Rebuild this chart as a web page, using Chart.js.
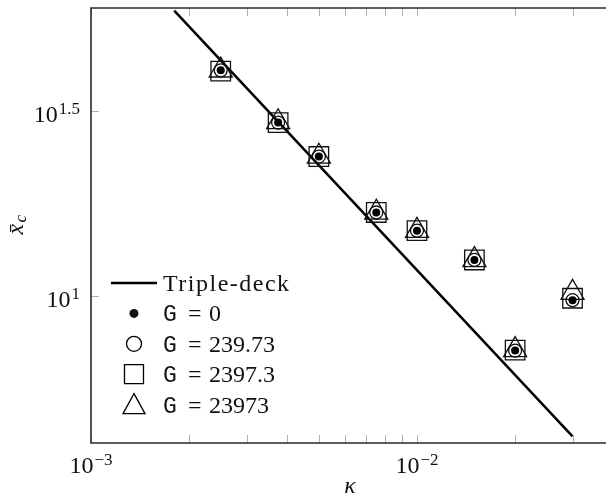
<!DOCTYPE html>
<html>
<head>
<meta charset="utf-8">
<script src="https://cdn.jsdelivr.net/npm/chart.js@4.4.1/dist/chart.umd.min.js"></script>
<style>
  html, body { margin: 0; padding: 0; background: #fff; overflow: hidden; }
  #wrap { width: 606px; height: 494px; }
  canvas { display: block; }
</style>
</head>
<body>
<div id="wrap"><canvas id="chart" width="606" height="494"></canvas></div>
<script>
// kappa values of the simulations
const kappa = [0.0025, 0.00375, 0.005, 0.0075, 0.01, 0.015, 0.02, 0.03];
// separation point x_c for each G
const xcG0 = [40.7, 29.4, 23.8, 16.8, 15.0, 12.5, 7.11, 9.73];
const xcG239 = [40.7, 29.4, 23.8, 16.8, 15.0, 12.5, 7.11, 9.73];
const xcG2397 = [40.5, 29.4, 23.8, 16.8, 15.0, 12.5, 7.13, 9.85];
const xcG23973 = [40.7, 29.5, 23.8, 16.8, 15.0, 12.5, 7.14, 10.2];
// triple-deck prediction
const tripleKappa = [0.0018, 0.03];
const tripleXc = [59, 4.17];
// ticks
const xTicks = [0.001, 0.01];
const xTickExp = ['\u22123', '\u22122'];
const xMinor = [0.002, 0.003, 0.004, 0.005, 0.006, 0.007, 0.008, 0.009, 0.02, 0.03];
const yTicks = [10, 31.6228];
const yTickExp = ['1', '1.5'];
const legendNames = ['Triple-deck', '0', '239.73', '2397.3', '23973'];

const serif = '"Liberation Serif", "DejaVu Serif", serif';
const mono = '"Liberation Mono", "DejaVu Sans Mono", monospace';

function pts(xs, ys) {
    return xs.map((x, i) => ({ x: x, y: ys[i] }));
}

function drawPow(ctx, base, exp, x, y, align) {
    ctx.font = '24px ' + serif;
    const wb = ctx.measureText(base).width;
    ctx.font = '17px ' + serif;
    const we = ctx.measureText(exp).width;
    let start = x;
    if (align === 'center') start = x - (wb + we + 1) / 2;
    if (align === 'right') start = x - (wb + we + 1);
    ctx.textAlign = 'left';
    ctx.textBaseline = 'alphabetic';
    ctx.font = '24px ' + serif;
    ctx.fillText(base, start, y);
    ctx.font = '17px ' + serif;
    ctx.fillText(exp, start + wb + 1, y - 8);
}

const framePlugin = {
    id: 'frame',
    afterDraw(chart) {
        const ctx = chart.ctx;
        const a = chart.chartArea;
        const xs = chart.scales.x;
        const ys = chart.scales.y;
        ctx.save();
        // ticks (inside)
        ctx.strokeStyle = '#b0b0b0';
        ctx.lineWidth = 1;
        ctx.beginPath();
        xTicks.concat(xMinor).forEach(v => {
            const px = Math.round(xs.getPixelForValue(v)) + 0.5;
            ctx.moveTo(px, a.bottom); ctx.lineTo(px, a.bottom - 8);
            ctx.moveTo(px, a.top); ctx.lineTo(px, a.top + 8);
        });
        yTicks.forEach(v => {
            const py = Math.round(ys.getPixelForValue(v)) + 0.5;
            ctx.moveTo(a.left, py); ctx.lineTo(a.left + 8, py);
        });
        ctx.stroke();
        // frame (right side is outside the picture)
        ctx.strokeStyle = '#2a2a2a';
        ctx.lineWidth = 1.6;
        ctx.beginPath();
        ctx.moveTo(a.right + 5, a.top); ctx.lineTo(a.left, a.top);
        ctx.lineTo(a.left, a.bottom); ctx.lineTo(a.right + 5, a.bottom);
        ctx.stroke();
        // tick labels
        ctx.fillStyle = '#111';
        xTicks.forEach((v, i) => {
            drawPow(ctx, '10', xTickExp[i], xs.getPixelForValue(v), a.bottom + 30, 'center');
        });
        yTicks.forEach((v, i) => {
            drawPow(ctx, '10', yTickExp[i], a.left - 11, ys.getPixelForValue(v) + 11, 'right');
        });
        // axis titles
        ctx.font = 'italic 24px ' + serif;
        ctx.textAlign = 'center';
        ctx.fillText('\u03ba', 350, 493);
        ctx.save();
        ctx.translate(23, (a.top + a.bottom) / 2);
        ctx.rotate(-Math.PI / 2);
        ctx.textAlign = 'left';
        ctx.font = 'italic 24px ' + serif;
        ctx.fillText('x\u0304', -9, 0);
        ctx.font = 'italic 17px ' + serif;
        ctx.fillText('c', 3, 3);
        ctx.restore();
        // legend
        const lx = 134, tx = 163;
        let ly = 283;
        const step = 30.4;
        ctx.strokeStyle = '#000';
        ctx.lineWidth = 2.5;
        ctx.beginPath();
        ctx.moveTo(111, ly); ctx.lineTo(157, ly);
        ctx.stroke();
        ctx.textAlign = 'left';
        ctx.font = '24px ' + serif;
        ctx.letterSpacing = '1.5px';
        ctx.fillText(legendNames[0], tx, ly + 8);
        ctx.letterSpacing = '0px';
        ctx.lineWidth = 1.3;
        for (let i = 1; i < legendNames.length; i++) {
            const cy = ly + step * i;
            ctx.beginPath();
            if (i === 1) {
                ctx.arc(lx, cy, 4.5, 0, Math.PI * 2);
                ctx.fill();
            } else if (i === 2) {
                ctx.arc(lx, cy, 7.5, 0, Math.PI * 2);
                ctx.stroke();
            } else if (i === 3) {
                ctx.rect(lx - 9.5, cy - 9.5, 19, 19);
                ctx.stroke();
            } else {
                ctx.moveTo(lx, cy - 11);
                ctx.lineTo(lx + 11, cy + 9);
                ctx.lineTo(lx - 11, cy + 9);
                ctx.closePath();
                ctx.stroke();
            }
            ctx.font = '23px ' + mono;
            ctx.fillText('G', tx, cy + 8);
            ctx.font = '24px ' + serif;
            ctx.fillText('=', 188, cy + 8);
            ctx.fillText(legendNames[i], 209, cy + 8);
        }
        ctx.restore();
    }
};

new Chart(document.getElementById('chart'), {
    type: 'scatter',
    data: {
        datasets: [
            {
                label: 'Triple-deck',
                type: 'line',
                data: pts(tripleKappa, tripleXc),
                borderColor: '#000',
                borderWidth: 2.5,
                pointRadius: 0,
                fill: false,
                order: 4,
            },
            {
                label: 'G = 0',
                data: pts(kappa, xcG0),
                pointStyle: 'circle',
                pointRadius: 4,
                backgroundColor: '#000',
                borderColor: '#000',
                borderWidth: 0,
                order: 0,
            },
            {
                label: 'G = 239.73',
                data: pts(kappa, xcG239),
                pointStyle: 'circle',
                pointRadius: 6.5,
                backgroundColor: 'rgba(0,0,0,0)',
                borderColor: '#111',
                borderWidth: 1.3,
                order: 1,
            },
            {
                label: 'G = 2397.3',
                data: pts(kappa, xcG2397),
                pointStyle: 'rect',
                pointRadius: 13.8,
                backgroundColor: 'rgba(0,0,0,0)',
                borderColor: '#111',
                borderWidth: 1.3,
                order: 2,
            },
            {
                label: 'G = 23973',
                data: pts(kappa, xcG23973),
                pointStyle: 'triangle',
                pointRadius: 13.3,
                backgroundColor: 'rgba(0,0,0,0)',
                borderColor: '#111',
                borderWidth: 1.3,
                order: 3,
            },
        ],
    },
    options: {
        responsive: false,
        animation: false,
        layout: { autoPadding: false, padding: { left: 91, top: 8, right: 0, bottom: 51 } },
        plugins: { legend: { display: false }, tooltip: { enabled: false } },
        scales: {
            x: { type: 'logarithmic', min: 0.001, max: 0.038, display: false },
            y: { type: 'logarithmic', min: 4, max: 60, display: false },
        },
    },
    plugins: [framePlugin],
});
</script>
</body>
</html>
